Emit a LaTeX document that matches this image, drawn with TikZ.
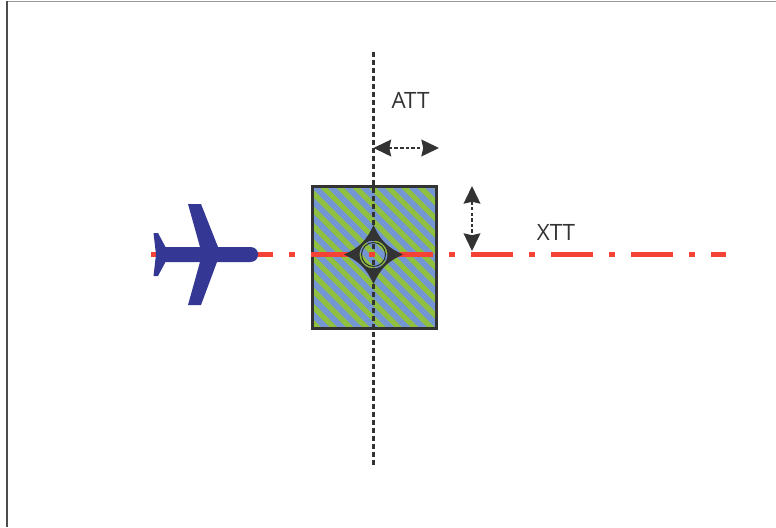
\documentclass[tikz,border=0pt]{standalone}
\usepackage{fontspec}
\setmainfont{Open Sans}
\usepackage{xcolor}
\definecolor{dkgray}{HTML}{333333}
\definecolor{redline}{HTML}{F44336}
\definecolor{boxblue}{HTML}{7496D2}
\definecolor{boxgreen}{HTML}{90C040}
\definecolor{planeblue}{HTML}{343894}
\usetikzlibrary{arrows.meta}
\tikzset{
	errorarrow/.style={draw=dkgray, line width=1.2pt, dash pattern=on 2pt off 1.2pt, {Stealth[length=10pt,width=9.5pt,inset=1pt]}-{Stealth[length=10pt,width=9.5pt,inset=1pt]}},
	errorlabel/.style={text=dkgray, font=\fontsize{12.8}{16}\selectfont, inner sep=0pt}
}
\begin{document}
\begin{tikzpicture}[x=0.02cm, y=-0.02cm]
	\useasboundingbox (0,0) rectangle (776,527);
	% page edge
	\draw[gray!80!white, line width=0.5pt] (8,1) -- (776,1);
	\draw[black!70!white, line width=1pt] (7,1) -- (7,527);

	% uncertainty box
	\fill[boxblue] (312.5,186.5) rectangle (436.5,328.5);
	\begin{scope}
		\clip (312.5,186.5) rectangle (436.5,328.5);
		\foreach \i in {0,...,18} {
			\draw[boxgreen, line width=3pt] (160+16.2*\i,186) -- ++(150,150);
		}
	\end{scope}
	\draw[dkgray, line width=1.5pt] (312.5,186.5) rectangle (436.5,328.5);

	% track lines
	\coordinate (trackstart) at (150.7,254.5);
	\coordinate (trackend) at (726,254.5);
	\coordinate (crosstop) at (373.5,52);
	\coordinate (crossbottom) at (373.5,466);
	\draw[dkgray, line width=1.7pt, dash pattern=on 3.1pt off 1.45pt] (crosstop) -- (crossbottom);
	\draw[redline, line width=2.85pt, dash pattern=on 0.85cm off 0.32cm on 0.11cm off 0.32cm] (trackstart) -- (trackend);

	% position symbol
	\fill[dkgray, even odd rule] (373.5,225) .. controls (377,233) and (381,239) .. (385,243)
		.. controls (389,247) and (395,251) .. (403,254.5)
		.. controls (395,258) and (389,262) .. (385,266)
		.. controls (381,270) and (377,276) .. (373.5,284)
		.. controls (370,276) and (366,270) .. (362,266)
		.. controls (358,262) and (352,258) .. (344,254.5)
		.. controls (352,251) and (358,247) .. (362,243)
		.. controls (366,239) and (370,233) .. (373.5,225)
		(373.5,254.5) circle (14.5);
	\draw[dkgray, line width=0.6pt] (373.5,254.5) circle (14.5);
	\draw[dkgray, line width=0.6pt] (373.5,254.5) circle (12);

	% aircraft
	\fill[planeblue] (258,254.5) .. controls (258,250) and (255,247) .. (250,247)
		-- (218,247) -- (201,204) -- (188,204) -- (200,247)
		-- (165.5,247) -- (158,233) -- (153.5,233) -- (156,254.5)
		-- (153.5,276) -- (158,276) -- (165.5,262) -- (200,262)
		-- (188,305) -- (201,305) -- (217,262) -- (250,262)
		.. controls (255,262) and (258,259) .. (258,254.5) -- cycle;

	% error arrows
	\coordinate (attleft) at (373.5,148);
	\coordinate (attright) at (439,148);
	\coordinate (xtttop) at (472,186);
	\coordinate (xttbottom) at (472,251);
	\draw[errorarrow] (attleft) -- (attright);
	\draw[errorarrow] (xtttop) -- (xttbottom);
	\node[errorlabel] (att) at (410.5,100) {ATT};
	\node[errorlabel] (xtt) at (556,232) {XTT};
\end{tikzpicture}
\end{document}
